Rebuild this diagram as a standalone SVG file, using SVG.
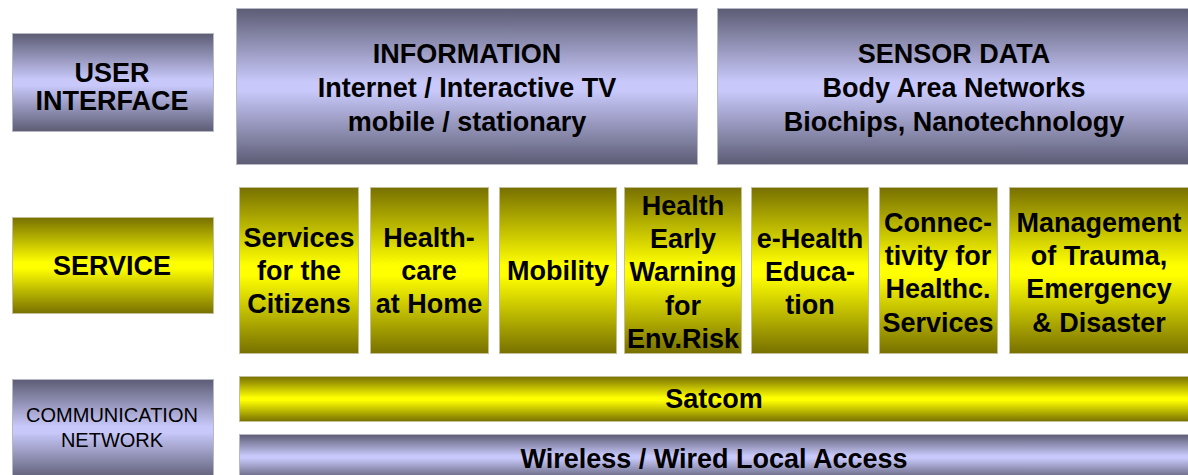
<svg xmlns="http://www.w3.org/2000/svg" width="1188" height="475" viewBox="0 0 1188 475">
  <defs>
    <linearGradient id="gBlue" x1="0" y1="0" x2="0" y2="1">
      <stop offset="0" stop-color="#5c5c74"/>
      <stop offset="0.47" stop-color="#c8c8fa"/>
      <stop offset="0.53" stop-color="#c8c8fa"/>
      <stop offset="1" stop-color="#5c5c74"/>
    </linearGradient>
    <linearGradient id="gYellow" x1="0" y1="0" x2="0" y2="1">
      <stop offset="0" stop-color="#777000"/>
      <stop offset="0.47" stop-color="#ffff00"/>
      <stop offset="0.53" stop-color="#ffff00"/>
      <stop offset="1" stop-color="#777000"/>
    </linearGradient>
  </defs>
  <style>
    .blue { fill: url(#gBlue); stroke: #b8b8c4; stroke-width: 1; }
    .yel { fill: url(#gYellow); stroke: #c4bf98; stroke-width: 1; }
    .t { font-family: "Liberation Sans", Arial, sans-serif; font-weight: bold; font-size: 27px; fill: #000; text-anchor: middle; }
    .tc { font-family: "Liberation Sans", Arial, sans-serif; font-size: 20px; fill: #000; text-anchor: middle; }
  </style>
  <rect width="1188" height="475" fill="#ffffff"/>

  <g id="user-interface">
    <rect class="blue" x="12.5" y="33.5" width="201" height="98"/>
    <text class="t" x="112" y="82">USER</text>
    <text class="t" x="112" y="110">INTERFACE</text>
  </g>
  <g id="information">
    <rect class="blue" x="236.5" y="8.5" width="461" height="156"/>
    <text class="t" x="467" y="63">INFORMATION</text>
    <text class="t" x="467" y="97">Internet / Interactive TV</text>
    <text class="t" x="467" y="131">mobile / stationary</text>
  </g>
  <g id="sensor-data">
    <rect class="blue" x="717.5" y="8.5" width="476" height="156"/>
    <text class="t" x="954" y="63">SENSOR DATA</text>
    <text class="t" x="954" y="97">Body Area Networks</text>
    <text class="t" x="954" y="131">Biochips, Nanotechnology</text>
  </g>

  <g id="service">
    <rect class="yel" x="12.5" y="217.5" width="201" height="96"/>
    <text class="t" x="112" y="275">SERVICE</text>
  </g>
  <g id="services-citizens">
    <rect class="yel" x="239.5" y="187.5" width="119" height="166"/>
    <text class="t" x="299" y="247">Services</text>
    <text class="t" x="299" y="280">for the</text>
    <text class="t" x="299" y="313">Citizens</text>
  </g>
  <g id="healthcare-home">
    <rect class="yel" x="370.5" y="187.5" width="118" height="166"/>
    <text class="t" x="429" y="247">Health-</text>
    <text class="t" x="429" y="280">care</text>
    <text class="t" x="429" y="313">at Home</text>
  </g>
  <g id="mobility">
    <rect class="yel" x="499.5" y="187.5" width="117" height="166"/>
    <text class="t" x="558" y="280">Mobility</text>
  </g>
  <g id="early-warning">
    <rect class="yel" x="624.5" y="187.5" width="117" height="166"/>
    <text class="t" x="683" y="215">Health</text>
    <text class="t" x="683" y="248">Early</text>
    <text class="t" x="683" y="281">Warning</text>
    <text class="t" x="683" y="315">for</text>
    <text class="t" x="683" y="348">Env.Risk</text>
  </g>
  <g id="ehealth-education">
    <rect class="yel" x="751.5" y="187.5" width="117" height="166"/>
    <text class="t" x="810" y="248">e-Health</text>
    <text class="t" x="810" y="281">Educa-</text>
    <text class="t" x="810" y="314">tion</text>
  </g>
  <g id="connectivity">
    <rect class="yel" x="879.5" y="187.5" width="118" height="166"/>
    <text class="t" x="938" y="232">Connec-</text>
    <text class="t" x="938" y="265">tivity for</text>
    <text class="t" x="938" y="298">Healthc.</text>
    <text class="t" x="938" y="332">Services</text>
  </g>
  <g id="trauma-management">
    <rect class="yel" x="1009.5" y="187.5" width="182" height="166"/>
    <text class="t" x="1099" y="232">Management</text>
    <text class="t" x="1099" y="265">of Trauma,</text>
    <text class="t" x="1099" y="298">Emergency</text>
    <text class="t" x="1099" y="332">&amp; Disaster</text>
  </g>

  <g id="communication-network">
    <rect class="blue" x="12.5" y="379.5" width="201" height="100"/>
    <text class="tc" x="112" y="422">COMMUNICATION</text>
    <text class="tc" x="112" y="447">NETWORK</text>
  </g>
  <g id="satcom">
    <rect class="yel" x="239.5" y="376.5" width="954" height="45"/>
    <text class="t" x="714" y="408">Satcom</text>
  </g>
  <g id="wireless">
    <rect class="blue" x="239.5" y="434.5" width="954" height="45"/>
    <text class="t" x="714" y="468">Wireless / Wired Local Access</text>
  </g>

  <g id="connectors"></g>
</svg>
